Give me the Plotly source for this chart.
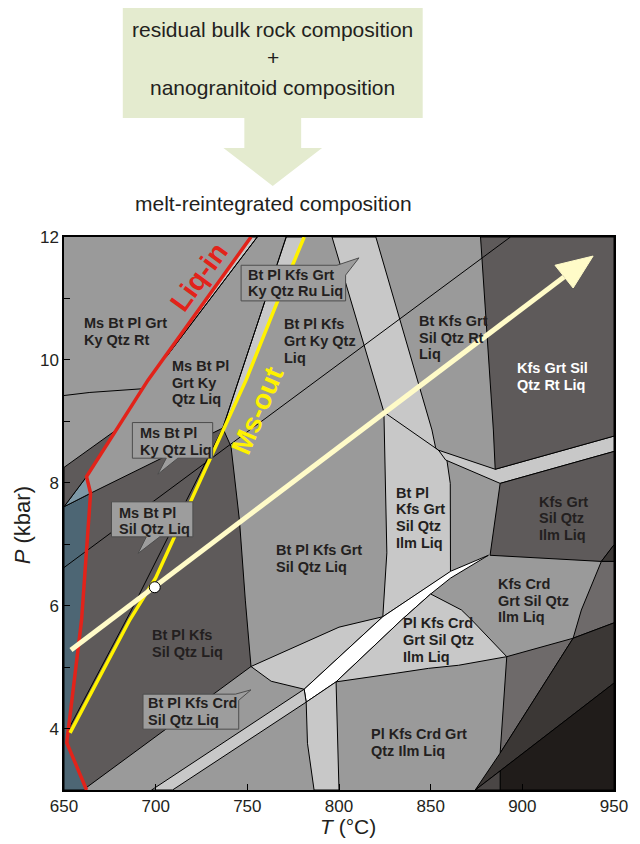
import plotly.graph_objects as go

# ---------------- data (T in °C, P in kbar) ----------------
liq_in_T = [752.0, 695.8, 662.3, 664.5, 659.6, 651.5, 662.3]
liq_in_P = [12.0, 9.67, 8.10, 7.83, 5.77, 3.77, 3.0]

ms_out_T = [781.0, 765.2, 749.3, 720.3, 700.0, 685.9, 653.3]
ms_out_P = [12.0, 10.86, 9.67, 7.77, 6.45, 5.77, 3.93]

line_e_T = [771.2, 736.6, 686.8, 652.3]
line_e_P = [12.0, 8.89, 5.93, 3.98]
line_f_T = [755.4, 705.8]
line_f_P = [12.0, 10.05]
line_rt_T = [650.0, 664.1, 692.7]
line_rt_P = [9.42, 9.47, 9.53]
ky_sil_T = [650.0, 893.5]
ky_sil_P = [6.62, 12.0]
line_ilm_T = [824.5, 854.3]
line_ilm_P = [9.15, 8.53]

# field polygons
blue_T = [650.0, 664.5, 659.6, 651.5, 662.3, 650.0]
blue_P = [7.61, 7.83, 5.77, 3.77, 3.0, 3.0]
lblue_T = [650.0, 662.3, 664.5]
lblue_P = [7.61, 8.10, 7.83]
d1_T = [650.0, 678.5, 662.3, 650.0]
d1_P = [8.25, 8.86, 8.10, 7.61]
d2_T = [664.5, 736.6, 741.1, 745.7, 748.9, 752.0, 661.8, 651.5, 659.6]
d2_P = [7.83, 8.89, 8.59, 7.39, 6.09, 5.01, 3.03, 3.77, 5.77]
strip_T = [752.0, 755.4, 705.8, 705.0]
strip_P = [12.0, 12.0, 10.05, 10.05]
msband_T = [771.2, 736.6, 749.3, 765.2, 781.0]
msband_P = [12.0, 8.89, 9.67, 10.86, 12.0]
l1_T = [796.2, 824.5, 826.1, 823.9, 860.8, 860.7, 858.7, 852.7, 850.7, 820.1]
l1_P = [12.0, 9.15, 6.86, 5.82, 6.55, 7.99, 8.40, 8.57, 8.86, 12.0]
tb_T = [854.3, 885.2, 950.0, 950.0, 887.9, 858.2]
tb_P = [8.53, 8.22, 8.76, 8.51, 7.99, 8.37]
d3_T = [877.2, 950.0, 950.0, 885.2, 884.2, 880.6]
d3_P = [12.0, 12.0, 8.76, 8.22, 8.86, 10.49]
d4_T = [887.9, 950.0, 950.0, 943.1, 882.4]
d4_P = [7.99, 8.51, 6.99, 6.72, 6.82]
vd2_T = [943.1, 950.0, 950.0]
vd2_P = [6.72, 6.99, 6.72]
md2_T = [943.1, 950.0, 950.0, 927.7, 932.2]
md2_P = [6.72, 6.72, 5.72, 5.47, 5.93]
l5_T = [752.0, 763.0, 781.0, 823.9, 800.0]
l5_P = [5.01, 4.77, 4.64, 5.82, 5.65]
white_T = [781.0, 823.9, 860.9, 881.5, 860.9, 850.0, 834.2, 798.4, 782.1]
white_P = [4.64, 5.82, 6.56, 6.82, 6.45, 6.19, 5.77, 4.76, 4.43]
l2_T = [798.4, 834.2, 850.0, 866.8, 872.3, 891.5, 865.2, 848.9, 831.0]
l2_P = [4.76, 5.77, 6.19, 5.93, 5.77, 5.17, 5.03, 4.98, 4.90]
l3_T = [782.1, 798.4, 800.0, 786.4, 782.8]
l3_P = [4.43, 4.76, 3.0, 3.0, 3.76]
l4_T = [781.0, 782.1, 709.2, 697.8]
l4_P = [4.64, 4.43, 3.0, 3.0]
md1_T = [891.5, 927.7, 887.9]
md1_P = [5.17, 5.47, 3.60]
dk1_T = [874.3, 887.9, 927.7, 950.0, 950.0]
dk1_P = [3.0, 3.60, 5.47, 5.72, 4.74]
vd_T = [887.9, 950.0, 950.0, 887.9]
vd_P = [3.31, 4.74, 3.0, 3.0]
sm_T = [874.3, 887.9, 887.9]
sm_P = [3.0, 3.31, 3.0]

# callout boxes (outline incl. pointer)
call1_T = [746.6, 798.9, 810.9, 803.6, 803.6, 746.6]
call1_P = [11.54, 11.54, 11.66, 11.38, 10.96, 10.96]
call2_T = [687.3, 731.1, 731.1, 712.1, 701.2, 705.8, 687.3]
call2_P = [8.98, 8.98, 8.40, 8.40, 8.14, 8.40, 8.40]
call3_T = [675.9, 720.3, 720.3, 702.2, 690.4, 694.9, 675.9]
call3_P = [7.69, 7.69, 7.12, 7.12, 6.85, 7.12, 7.12]
call4_T = [693.1, 743.5, 752.0, 745.3, 745.3, 693.1]
call4_P = [4.56, 4.56, 4.63, 4.46, 3.99, 3.99]

# path arrow and point
path_T = [653.8, 922.7]
path_P = [5.28, 11.35]
head_T = [938.6, 917.8, 927.7]
head_P = [11.69, 11.54, 11.17]
point_T = [699.5]
point_P = [6.30]

# field labels: (lines, left T, block-centre P, colour)
labels = [
    (["Ms Bt Pl Grt", "Ky Qtz Rt"], 660.5, 10.46, "#231f20"),
    (["Ms Bt Pl", "Grt Ky", "Qtz Liq"], 708.5, 9.63, "#231f20"),
    (["Bt Pl Kfs Grt", "Ky Qtz Ru Liq"], 749.9, 11.25, "#231f20"),
    (["Bt Pl Kfs", "Grt Ky Qtz", "Liq"], 769.2, 10.31, "#231f20"),
    (["Bt Kfs Grt", "Sil Qtz Rt", "Liq"], 842.9, 10.36, "#231f20"),
    (["Kfs Grt Sil", "Qtz Rt Liq"], 896.4, 9.73, "#ffffff"),
    (["Ms Bt Pl", "Ky Qtz Liq"], 690.8, 8.67, "#231f20"),
    (["Ms Bt Pl", "Sil Qtz Liq"], 679.5, 7.38, "#231f20"),
    (["Bt Pl Kfs Grt", "Sil Qtz Liq"], 765.2, 6.77, "#231f20"),
    (["Bt Pl", "Kfs Grt", "Sil Qtz", "Ilm Liq"], 830.4, 7.43, "#231f20"),
    (["Kfs Grt", "Sil Qtz", "Ilm Liq"], 908.3, 7.42, "#231f20"),
    (["Kfs Crd", "Grt Sil Qtz", "Ilm Liq"], 886.0, 6.08, "#231f20"),
    (["Pl Kfs Crd", "Grt Sil Qtz", "Ilm Liq"], 834.1, 5.44, "#231f20"),
    (["Bt Pl Kfs", "Sil Qtz Liq"], 697.7, 5.38, "#231f20"),
    (["Bt Pl Kfs Crd", "Sil Qtz Liq"], 695.0, 4.28, "#231f20"),
    (["Pl Kfs Crd Grt", "Qtz Ilm Liq"], 816.8, 3.77, "#231f20"),
]
LINE_STEP = 0.272  # kbar between label lines

x_ticks = [650, 700, 750, 800, 850, 900, 950]
y_ticks = [3, 4, 5, 6, 7, 8, 9, 10, 11, 12]
y_ticktext = ["", "4", "", "6", "", "8", "", "10", "", "12"]

# ---------------- colours ----------------
MED = "#9a9a9a"
LIGHT = "#c8c8c8"
DARK = "#5e5a5a"
BLUE = "#4d6674"
LBLUE = "#7d98a6"
DK = "#3b3735"
VDK = "#201c1a"
MDK = "#6e6a6a"
BOX = "#9d9d9d"
TXT = "#231f20"

fig = go.Figure()


def poly(T, P, fill, lc="black", lw=1):
    fig.add_trace(go.Scatter(x=T + [T[0]], y=P + [P[0]], mode="lines", fill="toself",
                             fillcolor=fill, line=dict(color=lc, width=lw),
                             hoverinfo="skip", showlegend=False))


def line(T, P, color="black", width=1):
    fig.add_trace(go.Scatter(x=T, y=P, mode="lines", line=dict(color=color, width=width),
                             hoverinfo="skip", showlegend=False))


poly(blue_T, blue_P, BLUE)
poly(lblue_T, lblue_P, LBLUE)
poly(d1_T, d1_P, DARK)
poly(d2_T, d2_P, DARK)
poly(strip_T, strip_P, LIGHT)
poly(msband_T, msband_P, LIGHT)
poly(l1_T, l1_P, LIGHT)
poly(tb_T, tb_P, LIGHT)
poly(d3_T, d3_P, DARK)
poly(d4_T, d4_P, DARK)
poly(vd2_T, vd2_P, DK)
poly(md2_T, md2_P, MDK)
poly(l5_T, l5_P, LIGHT)
poly(white_T, white_P, "#ffffff")
poly(l2_T, l2_P, LIGHT)
poly(l3_T, l3_P, LIGHT)
poly(l4_T, l4_P, LIGHT)
poly(md1_T, md1_P, MDK)
poly(dk1_T, dk1_P, DK)
poly(vd_T, vd_P, VDK)
poly(sm_T, sm_P, "#4a4645")

line(line_rt_T, line_rt_P)
line(ky_sil_T, ky_sil_P)
line(line_e_T, line_e_P)
line(line_f_T, line_f_P)
line(line_ilm_T, line_ilm_P)

line(liq_in_T, liq_in_P, "#e2231a", 3.5)
line(ms_out_T, ms_out_P, "#fff200", 3.5)

# path arrow
line(path_T, path_P, "#fffbc8", 5)
poly(head_T, head_P, "#fffbc8", "#fffbc8", 1)
fig.add_trace(go.Scatter(x=point_T, y=point_P, mode="markers",
                         marker=dict(symbol="circle", size=11, color="white",
                                     line=dict(color="black", width=1)),
                         hoverinfo="skip", showlegend=False))

for T, P in [(call1_T, call1_P), (call2_T, call2_P), (call3_T, call3_P), (call4_T, call4_P)]:
    poly(T, P, BOX, "#4d4d4d", 1)

annotations = []
for lines_, T, P, col in labels:
    n = len(lines_)
    for i, txt in enumerate(lines_):
        yy = P + ((n - 1) / 2 - i) * LINE_STEP
        annotations.append(dict(x=T, y=yy, xref="x", yref="y", text="<b>" + txt + "</b>",
                                showarrow=False, xanchor="left", yanchor="middle",
                                align="left", borderpad=0,
                                font=dict(family="Arial", size=14.5, color=col)))

annotations.append(dict(x=723.9, y=11.35, xref="x", yref="y", text="<b>Liq-in</b>",
                        showarrow=False, textangle=-54,
                        font=dict(family="Arial", size=28, color="#e2231a")))
annotations.append(dict(x=755.7, y=9.17, xref="x", yref="y", text="<b>Ms-out</b>",
                        showarrow=False, textangle=-67,
                        font=dict(family="Arial", size=28, color="#fff200")))

# header texts
for txt, yy in [("residual bulk rock composition", 1.3761), ("+", 1.3237),
                ("nanogranitoid composition", 1.2712)]:
    annotations.append(dict(x=0.3795, y=yy, xref="paper", yref="paper", text=txt,
                            showarrow=False, xanchor="center", yanchor="middle",
                            font=dict(family="Arial", size=21, color=TXT)))
annotations.append(dict(x=0.3813, y=1.0597, xref="paper", yref="paper",
                        text="melt-reintegrated composition", showarrow=False,
                        xanchor="center", yanchor="middle",
                        font=dict(family="Arial", size=21, color=TXT)))

# axis titles
annotations.append(dict(x=0.5163, y=-0.0669, xref="paper", yref="paper",
                        text="<i>T</i> (°C)", showarrow=False, xanchor="center", yanchor="middle",
                        font=dict(family="Arial", size=21, color=TXT)))
annotations.append(dict(x=-0.0761, y=0.479, xref="paper", yref="paper",
                        text="<i>P</i> (kbar)", showarrow=False, textangle=-90,
                        xanchor="center", yanchor="middle",
                        font=dict(family="Arial", size=22, color=TXT)))

shapes = [dict(type="path", xref="paper", yref="paper",
               path=("M 0.1069,1.4268 L 0.6522,1.4268 L 0.6522,1.2152 L 0.4312,1.2152 "
                     "L 0.4312,1.1609 L 0.4692,1.1609 L 0.3795,1.0922 L 0.2899,1.1609 "
                     "L 0.3279,1.1609 L 0.3279,1.2152 L 0.1069,1.2152 Z"),
               fillcolor="#e4ebcf", line=dict(width=0), layer="below")]

# page body has an 8px margin, so the figure is 8px smaller on each axis
fig.update_layout(
    width=632, height=836, autosize=False,
    margin=dict(l=56, r=24, t=229, b=54, pad=0),
    paper_bgcolor="white", plot_bgcolor=MED,
    showlegend=False, annotations=annotations, shapes=shapes,
    xaxis=dict(range=[650, 950], tickvals=x_ticks, ticks="inside", ticklen=6,
               tickcolor="black", showline=True, linecolor="black", linewidth=1.5,
               mirror=True, showgrid=False, zeroline=False,
               tickfont=dict(family="Arial", size=17, color=TXT)),
    yaxis=dict(range=[3, 12], tickvals=y_ticks, ticktext=y_ticktext, ticks="inside",
               ticklen=6, tickcolor="black", showline=True, linecolor="black",
               linewidth=1.5, mirror=True, showgrid=False, zeroline=False,
               tickfont=dict(family="Arial", size=17, color=TXT)),
)

fig.write_html("out.html")
